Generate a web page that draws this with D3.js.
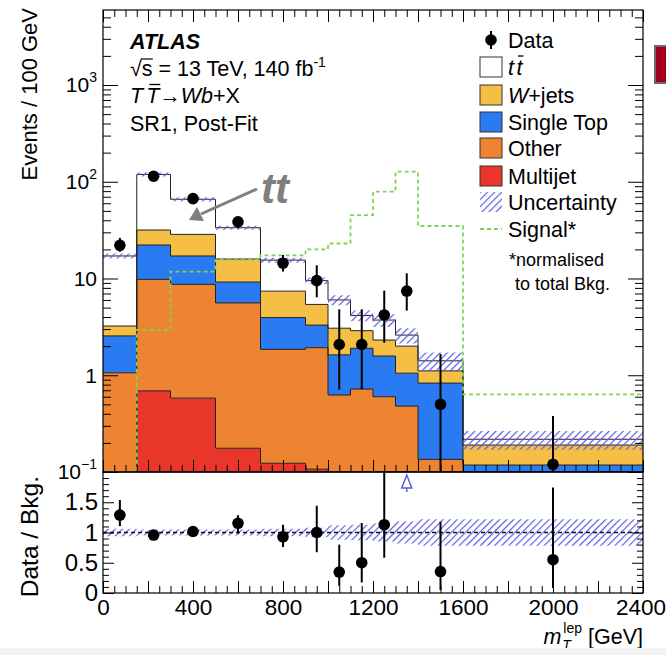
<!DOCTYPE html>
<html>
<head>
<meta charset="utf-8">
<script src="https://cdn.jsdelivr.net/npm/d3@7"></script>
<style>
  body { margin: 0; background: #fff; }
  svg { display: block; }
  text { font-family: "Liberation Sans", Arial, Helvetica, sans-serif; fill: #000; white-space: pre; }
</style>
</head>
<body>
<svg id="chart" width="666" height="655"></svg>
<script>
// ---- binning and per-process yields (events / 100 GeV) ----
const binEdges  = [0, 150, 300, 500, 700, 900, 1000, 1100, 1200, 1300, 1400, 1600, 2400];
const multijet  = [0, 0.69, 0.58, 0.176, 0.123, 0.107, 0, 0, 0, 0, 0, 0];
const other     = [1.06, 9.11, 8.12, 5.42, 1.73, 1.82, 0.625, 0.72, 0.6, 0.48, 0.135, 0.04];
const singleTop = [1.49, 12.4, 8.4, 3.6, 2.09, 1.37, 1.0, 1.18, 0.98, 0.57, 0.695, 0.078];
const wjets     = [0.68, 9.5, 11.5, 6.7, 3.46, 2.1, 1.44, 0.99, 0.73, 0.95, 0.28, 0.072];
const ttbar     = [13.87, 87.3, 37.3, 17.6, 8.1, 4.1, 2.94, 1.26, 1.41, 0.6, 0.3, 0.028];
const bkgRelUnc = [0.06, 0.05, 0.05, 0.05, 0.06, 0.08, 0.12, 0.13, 0.15, 0.18, 0.22, 0.22];
const signal    = [0.05, 2.94, 11.8, 15.6, 17.3, 20.0, 23.0, 45.3, 78.9, 127, 34.9, 0.635];

// ---- observed data ----
const dataX  = [75, 225, 400, 600, 800, 950, 1050, 1150, 1250, 1350, 1500, 2000];
const dataY  = [22, 114, 67, 38.6, 14.4, 9.5, 2.08, 2.08, 4.2, 7.4, 0.5, 0.12];
const dataLo = [18.9, 106, 61, 33, 11.8, 6.4, 0.71, 0.72, 2.17, 4.66, 0.07, 0.018];
const dataHi = [26.3, 122, 73, 43, 17.5, 13.7, 4.8, 4.8, 7.5, 11.3, 1.66, 0.38];

// ---- axis ticks ----
const xLabelTicks     = [0, 400, 800, 1200, 1600, 2000, 2400];
const yDecades        = [0.1, 1, 10, 100, 1000];
const ratioLabelTicks = [0, 0.5, 1, 1.5];

const svg = d3.select("#chart");
const L = 103, R = 643, mainTop = 10, mainBot = 472, ratioBot = 593;
const FONT = 21.5;

const x  = d3.scaleLinear().domain([0, 2400]).range([L, R]);
const y  = d3.scaleLog().domain([0.1, 5960]).range([mainBot, mainTop]);
const yr = d3.scaleLinear().domain([0, 2]).range([ratioBot, mainBot]);
const yc = v => (v <= 0.1 ? mainBot : Math.max(mainTop, y(v)));

const colors = {
  multijet: "#e8372a", other: "#ee8431", singleTop: "#2a7af2",
  wjets: "#f4bf44", ttbar: "#ffffff", signal: "#7fd35a", unc: "#5c5ce0"
};

// ---- defs: hatch + clips ----
const defs = svg.append("defs");
const pat = defs.append("pattern").attr("id", "hatch")
  .attr("patternUnits", "userSpaceOnUse").attr("width", 5).attr("height", 5)
  .attr("patternTransform", "rotate(45)");
pat.append("line").attr("x1", 0.5).attr("y1", 0).attr("x2", 0.5).attr("y2", 5)
  .attr("stroke", colors.unc).attr("stroke-width", 1.4);
defs.append("clipPath").attr("id", "clipMain").append("rect")
  .attr("x", L).attr("y", mainTop).attr("width", R - L).attr("height", mainBot - mainTop);
defs.append("clipPath").attr("id", "clipRatio").append("rect")
  .attr("x", L).attr("y", mainBot).attr("width", R - L).attr("height", ratioBot - mainBot);

// ---- stacked background ----
const layers = [
  { key: "multijet", vals: multijet },
  { key: "other", vals: other },
  { key: "singleTop", vals: singleTop },
  { key: "wjets", vals: wjets },
  { key: "ttbar", vals: ttbar }
];
const nBins = binEdges.length - 1;
let running = d3.range(nBins).map(() => 0);
layers.forEach(l => {
  l.lo = running.slice();
  l.hi = running.map((r, i) => r + l.vals[i]);
  running = l.hi;
});
const total = running;

const gMain = svg.append("g").attr("clip-path", "url(#clipMain)");
const stepLine = d3.line().x(d => x(d[0])).y(d => yc(d[1])).curve(d3.curveStepAfter);
const stepArea = d3.area().x(d => x(d.e)).y0(d => yc(d.lo)).y1(d => yc(d.hi)).curve(d3.curveStepAfter);
const stepPts = vals => vals.map((v, i) => [binEdges[i], v]).concat([[binEdges[nBins], vals[nBins - 1]]]);
const areaPts = (lo, hi) => lo.map((v, i) => ({ e: binEdges[i], lo: v, hi: hi[i] }))
  .concat([{ e: binEdges[nBins], lo: lo[nBins - 1], hi: hi[nBins - 1] }]);

layers.forEach(l => {
  gMain.append("path").attr("d", stepArea(areaPts(l.lo, l.hi))).attr("fill", colors[l.key]);
});
layers.forEach(l => {
  gMain.append("path").attr("d", stepLine(stepPts(l.hi)))
    .attr("fill", "none").attr("stroke", "#222").attr("stroke-width", 1);
});

// uncertainty band
gMain.append("path")
  .attr("d", stepArea(areaPts(total.map((t, i) => t * (1 - bkgRelUnc[i])), total.map((t, i) => t * (1 + bkgRelUnc[i])))))
  .attr("fill", "url(#hatch)");

// signal
gMain.append("path").attr("d", stepLine(stepPts(signal)))
  .attr("fill", "none").attr("stroke", colors.signal).attr("stroke-width", 1.8)
  .attr("stroke-dasharray", "4,3");

// data
const dataIdx = d3.range(dataX.length);
gMain.append("g").selectAll("line").data(dataIdx).join("line")
  .attr("x1", i => x(dataX[i])).attr("x2", i => x(dataX[i]))
  .attr("y1", i => yc(dataLo[i])).attr("y2", i => yc(dataHi[i]))
  .attr("stroke", "#000").attr("stroke-width", 2);
gMain.append("g").selectAll("circle").data(dataIdx).join("circle")
  .attr("cx", i => x(dataX[i])).attr("cy", i => yc(dataY[i])).attr("r", 5.8).attr("fill", "#000");

// ---- tt annotation ----
svg.append("text").attr("x", 261).attr("y", 203).attr("font-size", 42)
  .attr("font-style", "italic").attr("font-weight", "bold").style("fill", "#7f7f7f").text("tt");
svg.append("line").attr("x1", 257).attr("y1", 189).attr("x2", 201).attr("y2", 214)
  .attr("stroke", "#7f7f7f").attr("stroke-width", 3);
svg.append("path").attr("d", "M189,220 L197,207 L204,221 Z").attr("fill", "#7f7f7f");

// ---- ratio panel ----
const gRatio = svg.append("g").attr("clip-path", "url(#clipRatio)");
gRatio.append("path")
  .attr("d", d3.area().x(d => x(d.e)).y0(d => yr(1 - d.u)).y1(d => yr(1 + d.u)).curve(d3.curveStepAfter)(
    bkgRelUnc.map((u, i) => ({ e: binEdges[i], u })).concat([{ e: binEdges[nBins], u: bkgRelUnc[nBins - 1] }])))
  .attr("fill", "url(#hatch)");
gRatio.append("line").attr("x1", L).attr("x2", R).attr("y1", yr(1)).attr("y2", yr(1))
  .attr("stroke", "#111").attr("stroke-width", 1.6).attr("stroke-dasharray", "4,3");

const binOf = xv => binEdges.findIndex((e, i) => xv >= e && xv < binEdges[i + 1]);
const ratio = dataIdx.map(i => {
  const b = total[binOf(dataX[i])];
  return { x: dataX[i], r: dataY[i] / b, lo: dataLo[i] / b, hi: dataHi[i] / b };
});
const inRange = ratio.filter(d => d.r <= 2);
const outRange = ratio.filter(d => d.r > 2);
gRatio.append("g").selectAll("line").data(inRange).join("line")
  .attr("x1", d => x(d.x)).attr("x2", d => x(d.x))
  .attr("y1", d => yr(d.lo)).attr("y2", d => yr(d.hi))
  .attr("stroke", "#000").attr("stroke-width", 2);
gRatio.append("g").selectAll("circle").data(inRange).join("circle")
  .attr("cx", d => x(d.x)).attr("cy", d => yr(d.r)).attr("r", 5.8).attr("fill", "#000");
// off-scale marker
outRange.forEach(d => {
  const cx = x(d.x);
  gRatio.append("path").attr("d", `M${cx},${mainBot + 3} L${cx + 5},${mainBot + 16} L${cx - 5},${mainBot + 16} Z`)
    .attr("fill", "none").attr("stroke", colors.unc).attr("stroke-width", 1.5);
  gRatio.append("line").attr("x1", cx).attr("x2", cx).attr("y1", mainBot + 16).attr("y2", mainBot + 20)
    .attr("stroke", colors.unc).attr("stroke-width", 1.5);
});

// ---- axes ----
const styleAxis = size => g => {
  g.select(".domain").remove();
  g.selectAll("line").attr("stroke", "#000").attr("stroke-width", 1);
  g.selectAll("text").attr("font-size", size).style("font-family", "'Liberation Sans', Arial, sans-serif");
};
const xMajors = d3.range(0, 2401, 200);
const xMinors = d3.range(0, 2401, 50).filter(v => v % 200 !== 0);
const yMinors = [];
[0.1, 1, 10, 100, 1000].forEach(d => { for (let k = 2; k <= 9; k++) if (d * k <= 5960) yMinors.push(d * k); });

// main x (bottom and top, no labels)
[[mainBot, d3.axisBottom], [mainTop, d3.axisTop]].forEach(([yy, ax]) => {
  svg.append("g").attr("transform", `translate(0,${yy})`)
    .call(ax(x).tickValues(xMajors).tickSize(-12).tickFormat("")).call(styleAxis(21));
  svg.append("g").attr("transform", `translate(0,${yy})`)
    .call(ax(x).tickValues(xMinors).tickSize(-7).tickFormat("")).call(styleAxis(21));
});
// main y
[[L, d3.axisLeft], [R, d3.axisRight]].forEach(([xx, ax]) => {
  svg.append("g").attr("transform", `translate(${xx},0)`)
    .call(ax(y).tickValues(yDecades).tickSize(-15).tickFormat("")).call(styleAxis(21));
  svg.append("g").attr("transform", `translate(${xx},0)`)
    .call(ax(y).tickValues(yMinors).tickSize(-8).tickFormat("")).call(styleAxis(21));
});

// decade labels with exponents
const expOf = { 0.1: "−1", 1: null, 10: null, 100: "2", 1000: "3" };
const yLab = svg.append("g").attr("font-size", 21);
yDecades.forEach(v => {
  const t = yLab.append("text").attr("x", L - 6).attr("y", y(v)).attr("dy", "0.35em")
    .attr("text-anchor", "end");
  if (v === 1) t.text("1");
  else {
    t.append("tspan").text("10");
    if (expOf[v]) t.append("tspan").attr("font-size", 14).attr("dy", "-0.75em").text(expOf[v]);
  }
});

// ratio x
svg.append("g").attr("transform", `translate(0,${ratioBot})`)
  .call(d3.axisBottom(x).tickValues(xMajors).tickSize(-12).tickFormat("")).call(styleAxis(22));
svg.append("g").attr("transform", `translate(0,${ratioBot})`)
  .call(d3.axisBottom(x).tickValues(xMinors).tickSize(-7).tickFormat("")).call(styleAxis(22));
const xLabAxis = svg.append("g").attr("transform", `translate(0,${ratioBot})`)
  .call(d3.axisBottom(x).tickValues(xLabelTicks).tickSize(0).tickPadding(6).tickFormat(d3.format("d")))
  .call(styleAxis(22.5));
xLabAxis.selectAll(".tick text").filter(d => d === 2400).attr("dx", -2.5);
// ratio y
const rMajors = [0, 0.5, 1, 1.5, 2];
const rMinors = d3.range(0.1, 2, 0.1).filter(v => Math.abs(v * 2 - Math.round(v * 2)) > 1e-6);
[[L, d3.axisLeft], [R, d3.axisRight]].forEach(([xx, ax]) => {
  svg.append("g").attr("transform", `translate(${xx},0)`)
    .call(ax(yr).tickValues(rMajors).tickSize(-11).tickFormat("")).call(styleAxis(24));
  svg.append("g").attr("transform", `translate(${xx},0)`)
    .call(ax(yr).tickValues(rMinors).tickSize(-6).tickFormat("")).call(styleAxis(24));
});
svg.append("g").attr("transform", `translate(${L},0)`)
  .call(d3.axisLeft(yr).tickValues(ratioLabelTicks).tickSize(0).tickPadding(5).tickFormat(d3.format("")))
  .call(styleAxis(24));

// frames
svg.append("rect").attr("x", L).attr("y", mainTop).attr("width", R - L).attr("height", mainBot - mainTop)
  .attr("fill", "none").attr("stroke", "#000").attr("stroke-width", 1.2);
svg.append("rect").attr("x", L).attr("y", mainBot).attr("width", R - L).attr("height", ratioBot - mainBot)
  .attr("fill", "none").attr("stroke", "#000").attr("stroke-width", 1.2);

// ---- axis titles ----
svg.append("text").attr("transform", `translate(37,${mainTop - 2}) rotate(-90)`)
  .attr("text-anchor", "end").attr("font-size", 22).text("Events / 100 GeV");
svg.append("text").attr("transform", `translate(38,${mainBot + 4}) rotate(-90)`)
  .attr("text-anchor", "end").attr("font-size", 24.5).text("Data / Bkg.");

// rich text runs: sequence of pieces placed one after another
function run(g, x0, y0, pieces) {
  let cx = x0;
  pieces.forEach(p => {
    const size = p.size || FONT;
    const t = g.append("text").attr("x", cx + (p.dx || 0)).attr("y", y0 + (p.dy || 0))
      .attr("font-size", size).text(p.text);
    if (p.italic) t.attr("font-style", "italic");
    if (p.bold) t.attr("font-weight", "bold");
    const w = t.node().getComputedTextLength();
    if (p.overline) {
      g.append("line").attr("x1", cx + (p.dx || 0) + w * 0.25).attr("x2", cx + (p.dx || 0) + w + 1)
        .attr("y1", y0 - size * 0.86).attr("y2", y0 - size * 0.86)
        .attr("stroke", "#000").attr("stroke-width", 1.3);
    }
    cx += w + (p.dx || 0);
  });
  return cx;
}

// ---- labels ----
const gLab = svg.append("g");
run(gLab, 130, 49, [{ text: "ATLAS", italic: true, bold: true }]);
const sqrtEnd = run(gLab, 130, 76, [{ text: "√" }]);
run(gLab, sqrtEnd, 76, [{ text: "s" }, { text: " = 13 TeV, 140 fb" },
  { text: "-1", size: 14, dy: -9 }]);
gLab.append("line").attr("x1", sqrtEnd - 1).attr("x2", sqrtEnd + 11)
  .attr("y1", 76 - 17).attr("y2", 76 - 17).attr("stroke", "#000").attr("stroke-width", 1.2);
run(gLab, 130, 103, [{ text: "T", italic: true }, { text: "T", italic: true, overline: true, dx: 3 },
  { text: "→" }, { text: "Wb", italic: true }, { text: "+X" }]);
run(gLab, 130, 131, [{ text: "SR1, Post-Fit" }]);

// ---- legend ----
const gLeg = svg.append("g");
const legX = 480, legTextX = 508, boxW = 22, boxH = 20;
const rowY = [40, 67, 95, 122, 148, 176, 202, 229];
gLeg.append("line").attr("x1", 491).attr("x2", 491).attr("y1", rowY[0] - 9).attr("y2", rowY[0] + 9)
  .attr("stroke", "#000").attr("stroke-width", 2);
gLeg.append("circle").attr("cx", 491).attr("cy", rowY[0]).attr("r", 5.8).attr("fill", "#000");
const boxes = [
  { fill: colors.ttbar, row: 1 }, { fill: colors.wjets, row: 2 }, { fill: colors.singleTop, row: 3 },
  { fill: colors.other, row: 4 }, { fill: colors.multijet, row: 5 }
];
boxes.forEach(b => {
  gLeg.append("rect").attr("x", legX).attr("y", rowY[b.row] - boxH / 2).attr("width", boxW).attr("height", boxH)
    .attr("fill", b.fill).attr("stroke", "#333").attr("stroke-width", 1);
});
gLeg.append("rect").attr("x", legX).attr("y", rowY[6] - boxH / 2).attr("width", boxW).attr("height", boxH)
  .attr("fill", "url(#hatch)");
gLeg.append("line").attr("x1", legX).attr("x2", legX + boxW).attr("y1", rowY[7]).attr("y2", rowY[7])
  .attr("stroke", colors.signal).attr("stroke-width", 1.8).attr("stroke-dasharray", "4,3");

const legLabels = [
  [{ text: "Data" }],
  [{ text: "t", italic: true }, { text: "t", italic: true, overline: true, dx: 2.5 }],
  [{ text: "W", italic: true }, { text: "+jets" }],
  [{ text: "Single Top" }],
  [{ text: "Other" }],
  [{ text: "Multijet" }],
  [{ text: "Uncertainty" }],
  [{ text: "Signal*" }]
];
legLabels.forEach((pcs, i) => run(gLeg, legTextX, rowY[i] + 7.5, pcs));
run(gLeg, 509, 266, [{ text: "*normalised", size: 18 }]);
run(gLeg, 515, 290, [{ text: "to total Bkg.", size: 18 }]);

// ---- x axis title ----
const gXT = svg.append("g");
const mEnd = run(gXT, 0, 644, [{ text: "m", italic: true }]);
const tW = run(gXT, mEnd + 1, 650, [{ text: "T", italic: true, size: 14 }]);
const lepW = run(gXT, mEnd + 2, 633, [{ text: "lep", size: 14 }]);
run(gXT, Math.max(tW, lepW) + 6, 644, [{ text: "[GeV]" }]);
const bb = gXT.node().getBBox();
gXT.attr("transform", `translate(${R - (bb.x + bb.width)},0)`);

// neighbouring panel edge at the right border
svg.append("rect").attr("x", 655).attr("y", 46).attr("width", 14).attr("height", 37)
  .attr("fill", "#a0001c").attr("stroke", "#6a6a6a").attr("stroke-width", 2);
// faint strip along the bottom edge
svg.append("rect").attr("x", 0).attr("y", 648).attr("width", 666).attr("height", 7).attr("fill", "#f3f3f3");
</script>
</body>
</html>
